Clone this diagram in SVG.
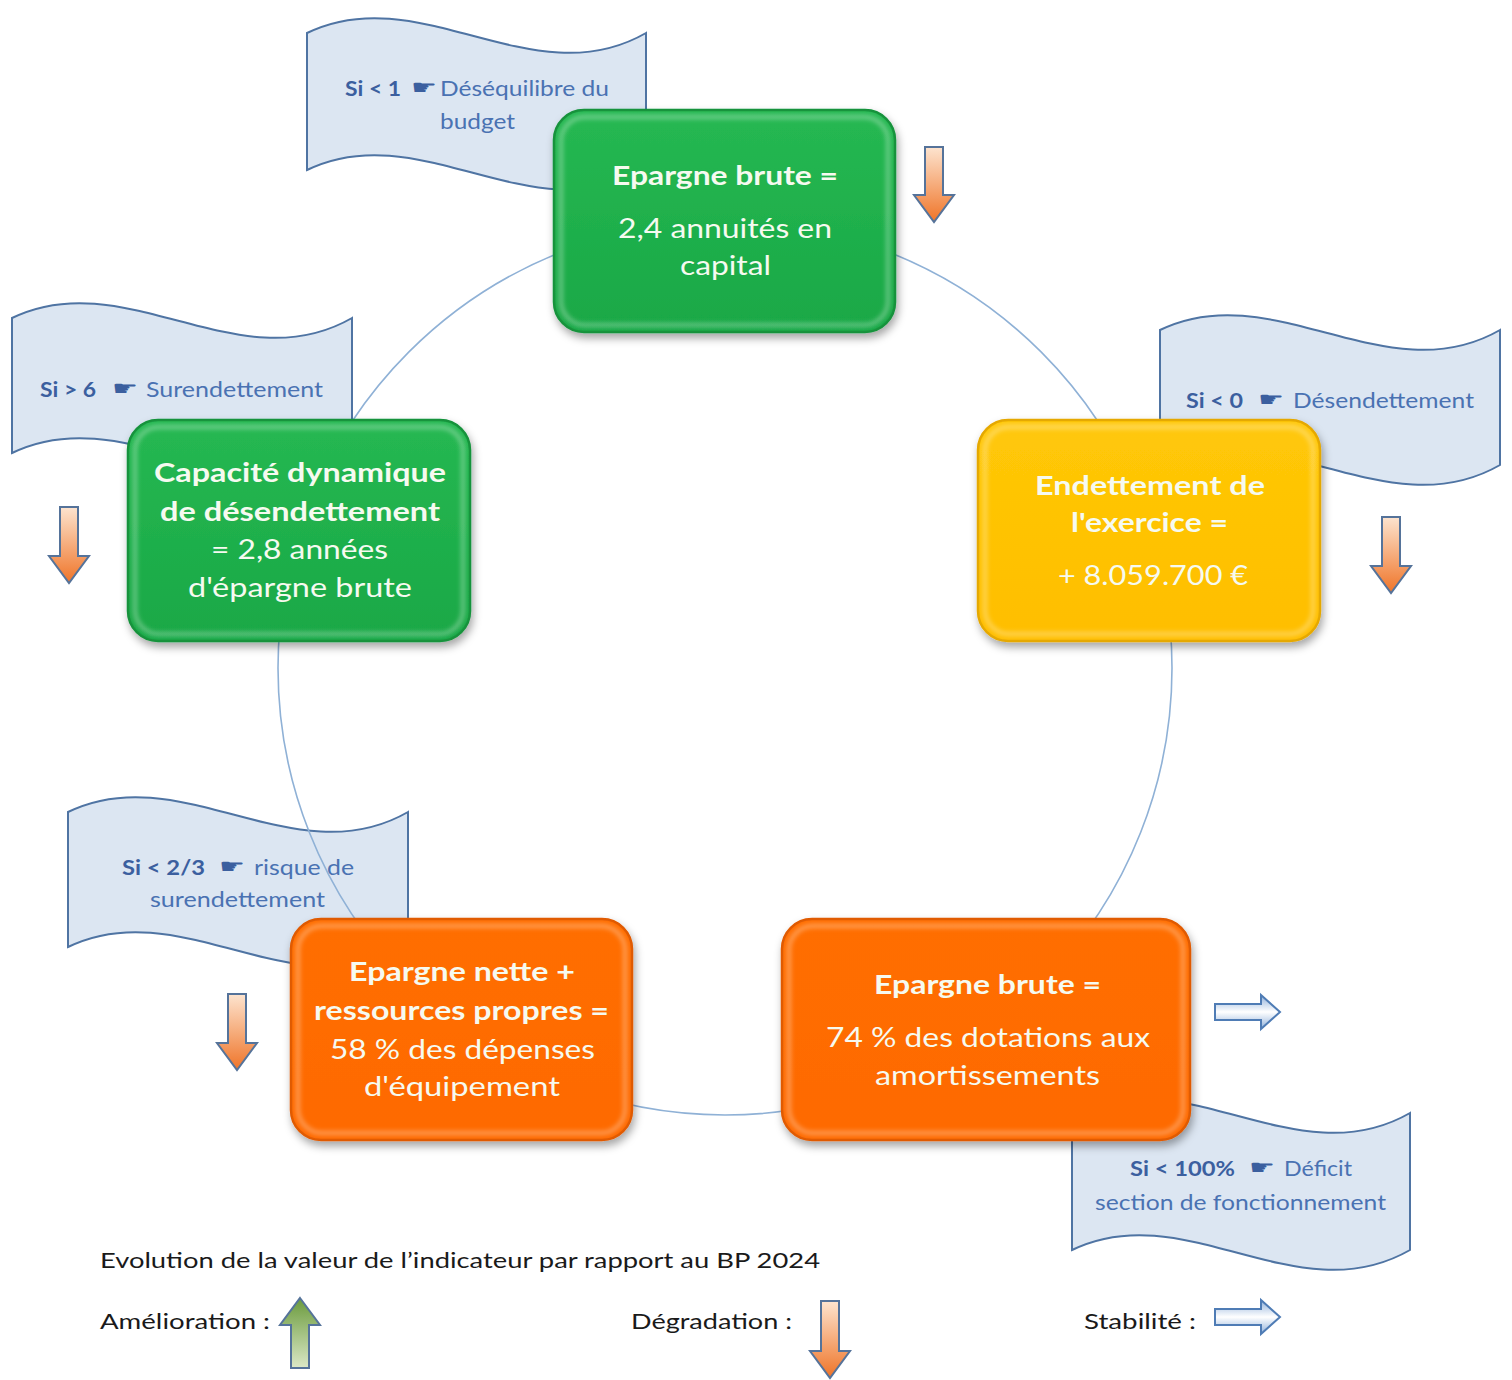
<svg xmlns="http://www.w3.org/2000/svg" width="1512" height="1380" viewBox="0 0 1512 1380">
<defs>
<style>
.bt{font-family:Lato,"Open Sans","Liberation Sans",sans-serif;font-size:26px;fill:#f6faf0;text-anchor:start}
.b{font-weight:bold}
.fl{fill:#dce6f2;stroke:#4f74a3;stroke-width:2}
.ft{font-family:Lato,"Liberation Sans",sans-serif;font-size:21px;fill:#4a72b2}
.fb{font-weight:bold;fill:#3b5f9f}
.hand{font-family:"DejaVu Sans",sans-serif;font-size:20px;fill:#3b5f9f}
.lg{font-family:Lato,"Liberation Sans",sans-serif;font-size:22px;fill:#1a1a1a}
.dn{fill:url(#gOr);stroke:#55739a;stroke-width:2}
.st{fill:url(#gSt);stroke:#4f7cb5;stroke-width:2}
.hl{fill:none;stroke:#ffffff;stroke-opacity:0.28;stroke-width:5}
</style>
<linearGradient id="gOr" x1="0" y1="0" x2="0" y2="1"><stop offset="0" stop-color="#fde4cf"/><stop offset="1" stop-color="#ef7428"/></linearGradient>
<linearGradient id="gGr" x1="0" y1="0" x2="0" y2="1"><stop offset="0" stop-color="#6a9a3c"/><stop offset="1" stop-color="#dbe8c6"/></linearGradient>
<linearGradient id="gSt" x1="0" y1="0" x2="0" y2="1"><stop offset="0" stop-color="#8fb0da"/><stop offset="0.5" stop-color="#ffffff"/><stop offset="1" stop-color="#8fb0da"/></linearGradient>
<linearGradient id="gGreen" x1="0" y1="0" x2="0" y2="1"><stop offset="0" stop-color="#26b852"/><stop offset="1" stop-color="#19a846"/></linearGradient>
<linearGradient id="gYel" x1="0" y1="0" x2="0" y2="1"><stop offset="0" stop-color="#ffc808"/><stop offset="1" stop-color="#ffbe00"/></linearGradient>
<linearGradient id="gOrg" x1="0" y1="0" x2="0" y2="1"><stop offset="0" stop-color="#ff6e05"/><stop offset="1" stop-color="#fe6a00"/></linearGradient>
<filter id="sh" x="-10%" y="-10%" width="125%" height="130%"><feDropShadow dx="2" dy="5" stdDeviation="4" flood-color="#000" flood-opacity="0.35"/></filter>
<filter id="bl"><feGaussianBlur stdDeviation="2"/></filter>
</defs>
<rect width="1512" height="1380" fill="#ffffff"/>

<!-- banners -->
<g id="flag1"><path class="fl" d="M307,33 C420,-22 533,98 646,33 L646,170 C533,235 420,115 307,170 Z"/>
<text class="ft fb" x="345" y="96" textLength="56" lengthAdjust="spacingAndGlyphs">Si &lt; 1</text>
<text class="hand" x="411" y="94" textLength="26" lengthAdjust="spacingAndGlyphs">☛</text>
<text class="ft" x="440" y="96" textLength="169" lengthAdjust="spacingAndGlyphs">Déséquilibre du</text>
<text class="ft" x="440" y="129" textLength="75" lengthAdjust="spacingAndGlyphs">budget</text></g>
<g id="flag2"><path class="fl" d="M12,318 C125,263 239,383 352,318 L352,453 C239,518 125,398 12,453 Z"/>
<text class="ft fb" x="40" y="397" textLength="56" lengthAdjust="spacingAndGlyphs">Si &gt; 6</text>
<text class="hand" x="112" y="395" textLength="26" lengthAdjust="spacingAndGlyphs">☛</text>
<text class="ft" x="146" y="397" textLength="177" lengthAdjust="spacingAndGlyphs">Surendettement</text></g>
<g id="flag3"><path class="fl" d="M1160,330 C1273,275 1387,395 1500,330 L1500,465 C1387,530 1273,410 1160,465 Z"/>
<text class="ft fb" x="1186" y="408" textLength="57" lengthAdjust="spacingAndGlyphs">Si &lt; 0</text>
<text class="hand" x="1258" y="406" textLength="26" lengthAdjust="spacingAndGlyphs">☛</text>
<text class="ft" x="1293" y="408" textLength="181" lengthAdjust="spacingAndGlyphs">Désendettement</text></g>
<g id="flag4"><path class="fl" d="M68,812 C181,757 295,877 408,812 L408,947 C295,1012 181,892 68,947 Z"/>
<text class="ft fb" x="122" y="875" textLength="83" lengthAdjust="spacingAndGlyphs">Si &lt; 2/3</text>
<text class="hand" x="219" y="873" textLength="26" lengthAdjust="spacingAndGlyphs">☛</text>
<text class="ft" x="254" y="875" textLength="100" lengthAdjust="spacingAndGlyphs">risque de</text>
<text class="ft" x="150" y="907" textLength="175" lengthAdjust="spacingAndGlyphs">surendettement</text></g>
<g id="flag5"><path class="fl" d="M1072,1113 C1185,1058 1297,1178 1410,1113 L1410,1250 C1297,1315 1185,1195 1072,1250 Z"/>
<text class="ft fb" x="1130" y="1176" textLength="105" lengthAdjust="spacingAndGlyphs">Si &lt; 100%</text>
<text class="hand" x="1249" y="1174" textLength="26" lengthAdjust="spacingAndGlyphs">☛</text>
<text class="ft" x="1284" y="1176" textLength="68" lengthAdjust="spacingAndGlyphs">Déficit</text>
<text class="ft" x="1095" y="1210" textLength="291" lengthAdjust="spacingAndGlyphs">section de fonctionnement</text></g>

<!-- connectors -->
<g id="connectors"><circle cx="725" cy="668" r="447" fill="none" stroke="#8fb1d6" stroke-width="1.6"/></g>

<!-- nodes -->
<g id="n1"><rect x="554" y="110" width="341" height="222" rx="30" fill="url(#gGreen)" stroke="#14923b" stroke-width="2.5" filter="url(#sh)"/>
<rect class="hl" x="561" y="117" width="327" height="208" rx="24" filter="url(#bl)"/>
<text class="bt b" x="612" y="185" textLength="226" lengthAdjust="spacingAndGlyphs">Epargne brute =</text>
<text class="bt" x="618" y="238" textLength="214" lengthAdjust="spacingAndGlyphs">2,4 annuités en</text>
<text class="bt" x="680" y="275" textLength="91" lengthAdjust="spacingAndGlyphs">capital</text></g>
<g id="n2"><rect x="128" y="420" width="342" height="221" rx="30" fill="url(#gGreen)" stroke="#14923b" stroke-width="2.5" filter="url(#sh)"/>
<rect class="hl" x="135" y="427" width="328" height="207" rx="24" filter="url(#bl)"/>
<text class="bt b" x="154" y="482" textLength="292" lengthAdjust="spacingAndGlyphs">Capacité dynamique</text>
<text class="bt b" x="160" y="521" textLength="280" lengthAdjust="spacingAndGlyphs">de désendettement</text>
<text class="bt" x="211" y="559" textLength="177" lengthAdjust="spacingAndGlyphs">= 2,8 années</text>
<text class="bt" x="188" y="597" textLength="224" lengthAdjust="spacingAndGlyphs">d'épargne brute</text></g>
<g id="n3"><rect x="978" y="420" width="342" height="221" rx="30" fill="url(#gYel)" stroke="#e5a800" stroke-width="2.5" filter="url(#sh)"/>
<rect class="hl" x="985" y="427" width="328" height="207" rx="24" filter="url(#bl)"/>
<text class="bt b" x="1035" y="495" textLength="230" lengthAdjust="spacingAndGlyphs">Endettement de</text>
<text class="bt b" x="1071" y="532" textLength="157" lengthAdjust="spacingAndGlyphs">l'exercice =</text>
<text class="bt" x="1058" y="585" textLength="190" lengthAdjust="spacingAndGlyphs">+ 8.059.700 €</text></g>
<g id="n4"><rect x="291" y="919" width="341" height="221" rx="30" fill="url(#gOrg)" stroke="#e05a00" stroke-width="2.5" filter="url(#sh)"/>
<rect class="hl" x="298" y="926" width="327" height="207" rx="24" filter="url(#bl)"/>
<text class="bt b" x="349" y="981" textLength="226" lengthAdjust="spacingAndGlyphs">Epargne nette +</text>
<text class="bt b" x="314" y="1020" textLength="295" lengthAdjust="spacingAndGlyphs">ressources propres =</text>
<text class="bt" x="330" y="1059" textLength="265" lengthAdjust="spacingAndGlyphs">58 % des dépenses</text>
<text class="bt" x="364" y="1096" textLength="196" lengthAdjust="spacingAndGlyphs">d'équipement</text></g>
<g id="n5"><rect x="782" y="919" width="408" height="221" rx="30" fill="url(#gOrg)" stroke="#e05a00" stroke-width="2.5" filter="url(#sh)"/>
<rect class="hl" x="789" y="926" width="394" height="207" rx="24" filter="url(#bl)"/>
<text class="bt b" x="874" y="994" textLength="227" lengthAdjust="spacingAndGlyphs">Epargne brute =</text>
<text class="bt" x="826" y="1047" textLength="324" lengthAdjust="spacingAndGlyphs">74 % des dotations aux</text>
<text class="bt" x="875" y="1085" textLength="225" lengthAdjust="spacingAndGlyphs">amortissements</text></g>

<!-- indicator arrows -->
<g id="arrows">
<path class="dn" d="M925,147 H943 V195 H954 L934,222 L914,195 H925 Z"/>
<path class="dn" d="M60,507 H78 V556 H89 L69,583 L49,556 H60 Z"/>
<path class="dn" d="M1382,517 H1400 V566 H1411 L1391,593 L1371,566 H1382 Z"/>
<path class="dn" d="M228,994 H246 V1043 H257 L237,1070 L217,1043 H228 Z"/>
<path class="st" d="M1215,1004 H1261 V995 L1280,1012 L1261,1029 V1020 H1215 Z"/>
</g>

<!-- legend -->
<g id="legend">
<text class="lg" x="100" y="1268" textLength="720" lengthAdjust="spacingAndGlyphs">Evolution de la valeur de l’indicateur par rapport au BP 2024</text>
<text class="lg" x="100" y="1329" textLength="170" lengthAdjust="spacingAndGlyphs">Amélioration :</text>
<path d="M300,1298 L320,1325 H309 V1368 H291 V1325 H280 Z" fill="url(#gGr)" stroke="#55739a" stroke-width="2"/>
<text class="lg" x="631" y="1329" textLength="161" lengthAdjust="spacingAndGlyphs">Dégradation :</text>
<path class="dn" d="M821,1301 H839 V1351 H850 L830,1378 L810,1351 H821 Z"/>
<text class="lg" x="1084" y="1329" textLength="112" lengthAdjust="spacingAndGlyphs">Stabilité :</text>
<path class="st" d="M1215,1309 H1261 V1300 L1280,1317 L1261,1334 V1325 H1215 Z"/>
</g>
</svg>
